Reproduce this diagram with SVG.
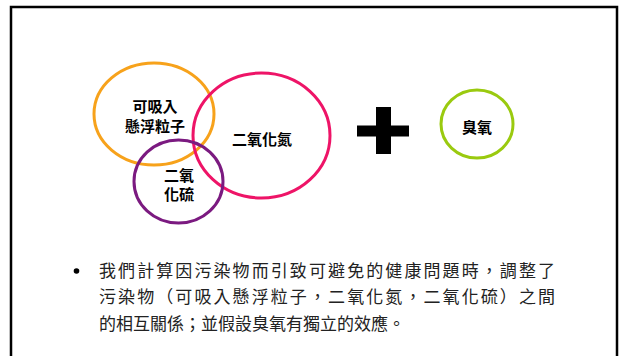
<svg xmlns="http://www.w3.org/2000/svg" width="620" height="356" viewBox="0 0 620 356">
<style>
.ring{fill:none;stroke-width:3}
.lbl{font-family:"Noto Sans CJK TC","Noto Sans CJK SC",sans-serif;font-weight:bold;font-size:15px;fill:#000;text-anchor:middle}
.body{font-family:"Noto Sans CJK TC","Noto Sans CJK SC",sans-serif;font-size:17px;fill:#222}
</style>
<rect width="620" height="356" fill="#fff"/>
<rect x="11" y="7" width="606" height="360" fill="none" stroke="#000" stroke-width="2.5"/>
<g id="pm">
<ellipse class="ring" cx="154" cy="114" rx="60" ry="51" stroke="#F7A21B"/>
<text class="lbl" x="155" y="112">可吸入</text>
<text class="lbl" x="155" y="132">懸浮粒子</text>
</g>
<g id="no2">
<ellipse class="ring" cx="261.5" cy="135.5" rx="68.5" ry="62.5" stroke="#EE1467"/>
<text class="lbl" x="262" y="145">二氧化氮</text>
</g>
<g id="so2">
<ellipse class="ring" cx="178.5" cy="181.5" rx="44.5" ry="41.5" stroke="#7B1A80"/>
<text class="lbl" x="179" y="181">二氧</text>
<text class="lbl" x="179" y="200">化硫</text>
</g>
<g id="plus">
<rect x="357" y="125.5" width="52" height="11" fill="#000"/>
<rect x="376" y="107" width="15" height="47" fill="#000"/>
</g>
<g id="o3">
<ellipse class="ring" cx="477" cy="124" rx="36" ry="34" stroke="#9ACA0F"/>
<text class="lbl" x="477" y="133">臭氧</text>
</g>
<g id="connectors"></g>
<g id="note">
<circle cx="76.5" cy="271" r="2.8" fill="#000"/>
<text class="body" x="99" y="277" textLength="456">我們計算因污染物而引致可避免的健康問題時，調整了</text>
<text class="body" x="99" y="303" textLength="456">污染物（可吸入懸浮粒子，二氧化氮，二氧化硫）之間</text>
<text class="body" x="99" y="330">的相互關係；並假設臭氧有獨立的效應。</text>
</g>
</svg>
